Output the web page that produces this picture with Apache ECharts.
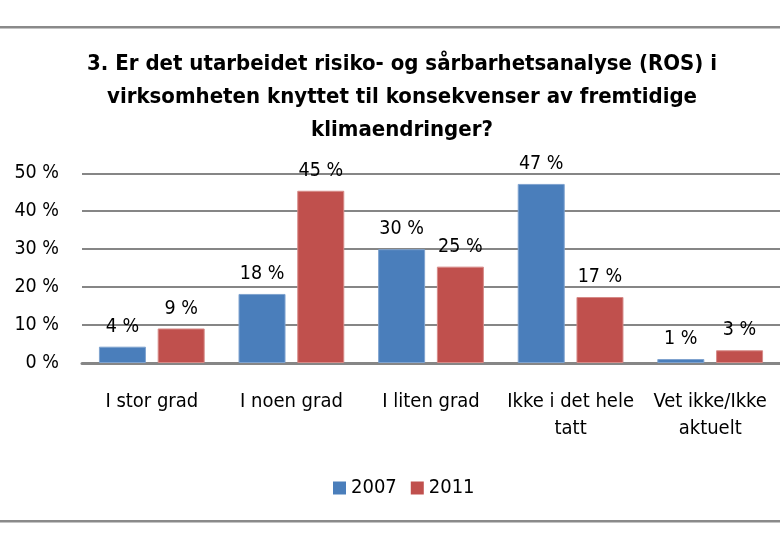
<!DOCTYPE html>
<html>
<head>
<meta charset="utf-8">
<script src="https://cdn.jsdelivr.net/npm/echarts@6/dist/echarts.min.js"></script>
<style>html,body{margin:0;padding:0;background:#fff}#c{width:780px;height:543px}</style>
</head>
<body>
<div id="c"></div>
<script>
const categories = ['I stor grad', 'I noen grad', 'I liten grad', 'Ikke i det hele\ntatt', 'Vet ikke/Ikke\naktuelt'];
const values2007 = [4.3, 18.2, 30.0, 47.2, 1.05];
const values2011 = [9.1, 45.4, 25.4, 17.4, 3.35];
const seriesNames = ['2007', '2011'];
const yTicks = [0, 10, 20, 30, 40, 50];
const titleText = '3. Er det utarbeidet risiko- og sårbarhetsanalyse (ROS) i\nvirksomheten knyttet til konsekvenser av fremtidige\nklimaendringer?';

const FONT = "'Liberation Sans Narrow', 'DejaVu Sans Condensed', Lato, sans-serif";
const chart = echarts.init(document.getElementById('c'), null, {renderer: 'canvas'});
const labelCfg = {
  show: true, position: 'top', distance: 10, color: '#000',
  fontFamily: FONT, fontSize: 19.5,
  formatter: p => Math.round(p.value) + ' %'
};
chart.setOption({
  animation: false,
  backgroundColor: '#fff',
  title: {
    text: titleText, left: 402, top: 48, padding: 0, textAlign: 'center',
    textStyle: {fontFamily: FONT, fontWeight: 'bold', fontSize: 22, lineHeight: 33, color: '#000'}
  },
  legend: {
    data: seriesNames, left: 328, top: 473, itemWidth: 13, itemHeight: 13, itemGap: 14,
    icon: 'rect', itemStyle: {borderWidth: 0},
    textStyle: {fontFamily: FONT, fontSize: 20, color: '#000'}
  },
  graphic: [
    {type: 'line', shape: {x1: 0, y1: 27.3, x2: 780, y2: 27.3}, style: {stroke: '#8a8a8a', lineWidth: 2.5}},
    {type: 'line', shape: {x1: 0, y1: 521.3, x2: 780, y2: 521.3}, style: {stroke: '#8a8a8a', lineWidth: 2.5}}
  ],
  grid: {left: 82, right: -8.4, top: 173.3, bottom: 180, containLabel: false},
  xAxis: {
    type: 'category', data: categories,
    axisLine: {lineStyle: {color: '#868686', width: 3}},
    axisTick: {show: false},
    axisLabel: {fontFamily: FONT, fontSize: 20, color: '#000', margin: 25, lineHeight: 27.5, interval: 0}
  },
  yAxis: {
    type: 'value', min: yTicks[0], max: yTicks[yTicks.length - 1], interval: 10,
    axisLine: {show: false}, axisTick: {show: false},
    splitLine: {lineStyle: {color: '#868686', width: 2}},
    axisLabel: {fontFamily: FONT, fontSize: 19.5, color: '#000', margin: 23, formatter: '{value} %'}
  },
  series: [
    {name: seriesNames[0], type: 'bar', data: values2007, barWidth: 47, barGap: '25%',
     itemStyle: {color: '#4A7EBB', borderColor: '#7fa3cf', borderWidth: 1}, label: labelCfg},
    {name: seriesNames[1], type: 'bar', data: values2011, barWidth: 47, barGap: '25%',
     itemStyle: {color: '#C0504D', borderColor: '#d68a88', borderWidth: 1}, label: labelCfg}
  ]
});
</script>
</body>
</html>
